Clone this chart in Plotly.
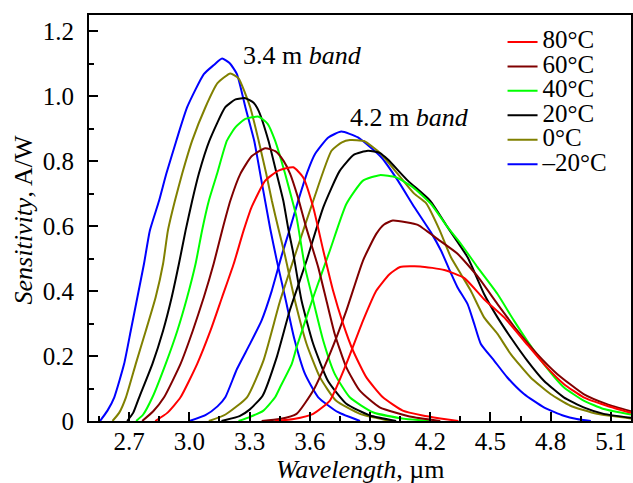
import plotly.graph_objects as go

# Spectral sensitivity of the photodiodes, two bands per temperature
# Wavelength in micrometres, sensitivity in A/W

# -20 °C
wl_m20_a = [2.555, 2.592, 2.626, 2.675, 2.708, 2.741, 2.774, 2.803, 2.849, 2.885, 2.935, 2.989, 3.072, 3.12, 3.163,
            3.20, 3.237, 3.279, 3.323, 3.353, 3.403, 3.437, 3.477, 3.522, 3.576, 3.642, 3.741, 3.85]
s_m20_a = [0.0, 0.032, 0.073, 0.176, 0.278, 0.381, 0.484, 0.586, 0.678, 0.761, 0.863, 0.966, 1.068, 1.095, 1.116,
           1.102, 1.068, 0.966, 0.863, 0.761, 0.591, 0.490, 0.381, 0.255, 0.145, 0.073, 0.027, 0.0]
wl_m20_b = [3.0, 3.08, 3.14, 3.179, 3.237, 3.30, 3.36, 3.41, 3.46, 3.50, 3.543, 3.59, 3.626, 3.692, 3.757, 3.84,
            3.956, 4.039, 4.121, 4.204, 4.254, 4.303, 4.336, 4.386, 4.419, 4.452, 4.518, 4.584, 4.667, 4.766,
            4.865, 4.93, 5.0]
s_m20_b = [0.0, 0.018, 0.045, 0.073, 0.16, 0.235, 0.31, 0.40, 0.51, 0.59, 0.68, 0.77, 0.822, 0.873, 0.891, 0.873,
           0.812, 0.74, 0.658, 0.58, 0.524, 0.455, 0.411, 0.36, 0.299, 0.237, 0.186, 0.134, 0.083, 0.042,
           0.016, 0.006, 0.0]

# 0 °C
wl_0_a = [2.617, 2.65, 2.684, 2.733, 2.783, 2.832, 2.869, 2.893, 2.928, 2.964, 3.014, 3.08, 3.14, 3.204, 3.245,
          3.303, 3.345, 3.383, 3.411, 3.444, 3.476, 3.526, 3.584, 3.65, 3.73, 3.85, 4.0]
s_0_a = [0.0, 0.025, 0.073, 0.176, 0.278, 0.381, 0.484, 0.586, 0.678, 0.761, 0.863, 0.966, 1.04, 1.07, 1.055,
         0.966, 0.863, 0.761, 0.678, 0.591, 0.51, 0.37, 0.237, 0.135, 0.063, 0.022, 0.0]
wl_0_b = [3.097, 3.18, 3.287, 3.369, 3.452, 3.534, 3.617, 3.708, 3.76, 3.80, 3.87, 3.95, 4.039, 4.12, 4.18,
          4.245, 4.303, 4.353, 4.402, 4.468, 4.535, 4.601, 4.70, 4.799, 4.898, 5.03, 5.2]
s_0_b = [0.0, 0.02, 0.073, 0.186, 0.37, 0.525, 0.678, 0.832, 0.858, 0.865, 0.862, 0.825, 0.76, 0.70, 0.67,
         0.59, 0.504, 0.452, 0.401, 0.319, 0.268, 0.206, 0.134, 0.083, 0.047, 0.022, 0.008]

# 20 °C
wl_20_a = [2.69, 2.72, 2.75, 2.816, 2.869, 2.912, 2.948, 2.981, 3.014, 3.047, 3.10, 3.179, 3.23, 3.279, 3.32,
           3.345, 3.394, 3.435, 3.468, 3.493, 3.515, 3.559, 3.617, 3.69, 3.782, 3.90, 4.03]
s_20_a = [0.0, 0.025, 0.073, 0.176, 0.278, 0.381, 0.484, 0.586, 0.678, 0.761, 0.863, 0.966, 0.99, 0.994, 0.98,
          0.955, 0.863, 0.761, 0.678, 0.591, 0.525, 0.37, 0.237, 0.124, 0.053, 0.017, 0.0]
wl_20_b = [3.16, 3.25, 3.30, 3.365, 3.435, 3.50, 3.584, 3.667, 3.749, 3.82, 3.89, 3.95, 3.989, 4.088, 4.20,
           4.287, 4.386, 4.468, 4.535, 4.601, 4.683, 4.766, 4.865, 4.964, 5.064, 5.2]
s_20_b = [0.0, 0.015, 0.035, 0.078, 0.196, 0.34, 0.494, 0.658, 0.77, 0.82, 0.832, 0.825, 0.805, 0.74, 0.678,
          0.596, 0.504, 0.391, 0.319, 0.257, 0.186, 0.124, 0.073, 0.042, 0.022, 0.01]

# 40 °C
wl_40_a = [2.735, 2.77, 2.816, 2.882, 2.940, 2.989, 3.031, 3.063, 3.097, 3.138, 3.187, 3.229, 3.279, 3.345, 3.39,
           3.427, 3.477, 3.513, 3.534, 3.576, 3.617, 3.667, 3.724, 3.799, 3.914, 4.06, 4.2]
s_40_a = [0.0, 0.02, 0.073, 0.176, 0.278, 0.381, 0.484, 0.586, 0.678, 0.761, 0.863, 0.904, 0.93, 0.937, 0.915,
          0.863, 0.761, 0.678, 0.627, 0.473, 0.37, 0.247, 0.145, 0.073, 0.027, 0.008, 0.0]
wl_40_b = [3.245, 3.30, 3.369, 3.427, 3.452, 3.51, 3.534, 3.617, 3.70, 3.782, 3.865, 3.948, 4.03, 4.113, 4.204,
           4.287, 4.353, 4.436, 4.535, 4.617, 4.683, 4.766, 4.865, 4.964, 5.064, 5.2]
s_40_b = [0.0, 0.012, 0.032, 0.073, 0.104, 0.176, 0.227, 0.381, 0.525, 0.668, 0.74, 0.757, 0.75, 0.72, 0.668,
          0.596, 0.545, 0.473, 0.391, 0.309, 0.247, 0.175, 0.104, 0.063, 0.037, 0.02]

# 60 °C
wl_60_a = [2.765, 2.82, 2.874, 2.956, 3.017, 3.072, 3.121, 3.163, 3.204, 3.254, 3.31, 3.378, 3.43, 3.47, 3.502,
           3.54, 3.58, 3.642, 3.683, 3.724, 3.782, 3.848, 3.948, 4.113, 4.25]
s_60_a = [0.0, 0.03, 0.073, 0.176, 0.278, 0.381, 0.484, 0.586, 0.678, 0.761, 0.815, 0.84, 0.83, 0.80, 0.761,
          0.69, 0.60, 0.473, 0.37, 0.268, 0.165, 0.094, 0.042, 0.012, 0.0]
wl_60_b = [3.36, 3.45, 3.534, 3.617, 3.70, 3.782, 3.865, 3.931, 3.97, 4.013, 4.08, 4.138, 4.237, 4.336, 4.436,
           4.535, 4.634, 4.733, 4.832, 4.964, 5.08, 5.2]
s_60_b = [0.0, 0.006, 0.022, 0.094, 0.207, 0.34, 0.494, 0.576, 0.605, 0.617, 0.612, 0.604, 0.56, 0.515, 0.445,
          0.36, 0.278, 0.206, 0.145, 0.083, 0.052, 0.03]

# 80 °C
wl_80_a = [2.83, 2.89, 2.956, 3.039, 3.105, 3.163, 3.221, 3.270, 3.311, 3.378, 3.444, 3.518, 3.567, 3.617, 3.667,
           3.716, 3.766, 3.815, 3.881, 3.964, 4.063, 4.162, 4.25, 4.34]
s_80_a = [0.0, 0.025, 0.073, 0.176, 0.278, 0.381, 0.484, 0.586, 0.66, 0.74, 0.771, 0.781, 0.75, 0.658, 0.525,
          0.401, 0.299, 0.217, 0.135, 0.073, 0.032, 0.017, 0.008, 0.0]
wl_80_b = [3.427, 3.52, 3.617, 3.70, 3.782, 3.865, 3.931, 3.997, 4.05, 4.15, 4.27, 4.37, 4.468, 4.568, 4.667,
           4.766, 4.865, 4.964, 5.08, 5.2]
s_80_b = [0.0, 0.006, 0.022, 0.063, 0.176, 0.309, 0.401, 0.452, 0.474, 0.476, 0.465, 0.44, 0.375, 0.319, 0.247,
          0.175, 0.114, 0.073, 0.047, 0.025]

labels = ["–20°C", "0°C", "20°C", "40°C", "60°C", "80°C"]
colors = ["#0000ff", "#808000", "#000000", "#00ff00", "#800000", "#ff0000"]
legend_ranks = [6, 5, 4, 3, 2, 1]
band_a = [(wl_m20_a, s_m20_a), (wl_0_a, s_0_a), (wl_20_a, s_20_a), (wl_40_a, s_40_a), (wl_60_a, s_60_a), (wl_80_a, s_80_a)]
band_b = [(wl_m20_b, s_m20_b), (wl_0_b, s_0_b), (wl_20_b, s_20_b), (wl_40_b, s_40_b), (wl_60_b, s_60_b), (wl_80_b, s_80_b)]

x_ticks = [2.7, 3.0, 3.3, 3.6, 3.9, 4.2, 4.5, 4.8, 5.1]
x_tick_text = ["2.7", "3.0", "3.3", "3.6", "3.9", "4.2", "4.5", "4.8", "5.1"]
y_ticks = [0, 0.2, 0.4, 0.6, 0.8, 1.0, 1.2]
y_tick_text = ["0", "0.2", "0.4", "0.6", "0.8", "1.0", "1.2"]

FONT = "Liberation Serif"

fig = go.Figure()
for lab, col, rank, (xa, ya), (xb, yb) in zip(labels, colors, legend_ranks, band_a, band_b):
    fig.add_trace(go.Scatter(
        x=list(xa) + [None] + list(xb),
        y=list(ya) + [None] + list(yb),
        mode="lines",
        line=dict(color=col, width=2, shape="spline", smoothing=0.5),
        name=f'<span style="font-size:25px">{lab}</span>',
        legendrank=rank,
        connectgaps=False,
    ))

axis_common = dict(
    showgrid=False, zeroline=False,
    showline=True, linecolor="black", linewidth=2, mirror=True,
    ticks="inside", ticklen=9, tickwidth=2, tickcolor="black",
    tickfont=dict(family=FONT, size=25, color="black"),
)

fig.update_xaxes(
    range=[2.5, 5.2], tickvals=x_ticks, ticktext=x_tick_text,
    minor=dict(dtick=0.15, tick0=2.55, ticks="inside", ticklen=5, tickwidth=2, tickcolor="black"),
    ticklabelstandoff=-3,
    **axis_common,
)
fig.update_yaxes(
    range=[0, 1.25], tickvals=y_ticks, ticktext=y_tick_text,
    minor=dict(dtick=0.1, tick0=0, ticks="inside", ticklen=5, tickwidth=2, tickcolor="black"),
    ticklabelstandoff=8,
    **axis_common,
)

fig.add_annotation(x=3.255, y=1.125, xref="x", yref="y", xanchor="left", yanchor="middle",
                   text="3.4 m <i>band</i>", showarrow=False,
                   font=dict(family=FONT, size=26, color="black"))
fig.add_annotation(x=3.79, y=0.935, xref="x", yref="y", xanchor="left", yanchor="middle",
                   text="4.2 m <i>band</i>", showarrow=False,
                   font=dict(family=FONT, size=26, color="black"))
fig.add_annotation(x=-0.121, y=0.495, xref="paper", yref="paper", xanchor="center", yanchor="middle",
                   text="<i>Sensitivity</i>, A/W", textangle=-90, showarrow=False,
                   font=dict(family=FONT, size=26, color="black"))
fig.add_annotation(x=0.5, y=-0.119, xref="paper", yref="paper", xanchor="center", yanchor="middle",
                   text="<i>Wavelength</i>, µm", showarrow=False,
                   font=dict(family=FONT, size=26, color="black"))

fig.update_layout(
    width=633, height=483,
    margin=dict(l=89, r=0, t=15, b=62),
    paper_bgcolor="white", plot_bgcolor="white",
    font=dict(family=FONT, color="black"),
    showlegend=True,
    legend=dict(x=0.763, y=0.976, xanchor="left", yanchor="top",
                font=dict(family=FONT, size=16.5, color="black"),
                bgcolor="rgba(0,0,0,0)", borderwidth=0, tracegroupgap=0,
                itemwidth=30),
)

fig.write_html("out.html")
